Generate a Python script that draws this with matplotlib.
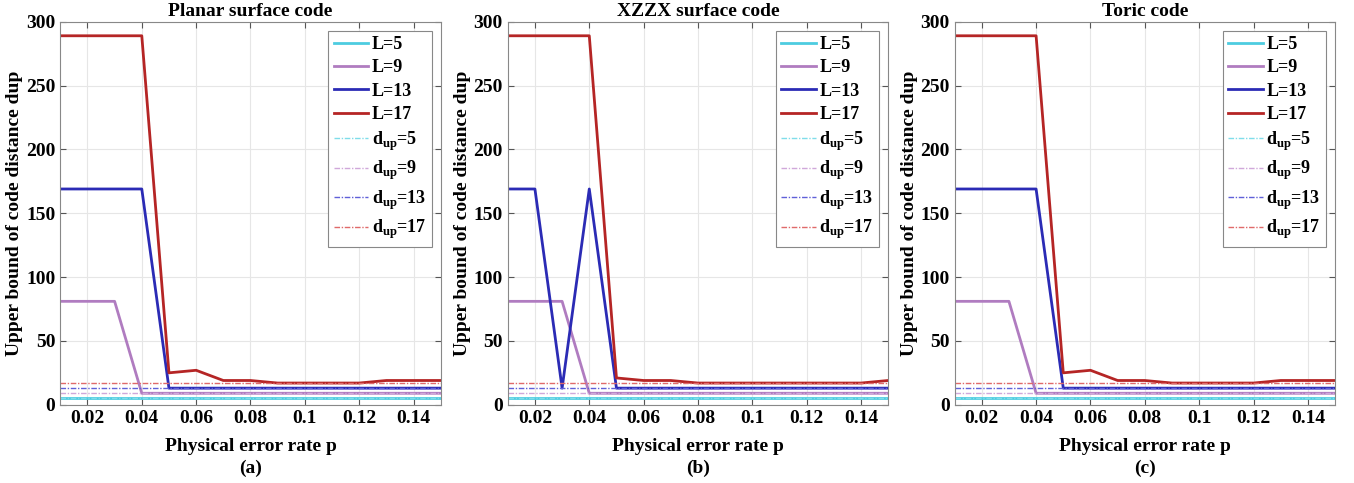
import numpy as np
import matplotlib
matplotlib.use("Agg")
import matplotlib.pyplot as plt

plt.rcParams['font.family'] = ['Liberation Serif', 'DejaVu Serif']
plt.rcParams['font.weight'] = 'bold'
plt.rcParams['mathtext.fontset'] = 'custom'
plt.rcParams['mathtext.rm'] = 'Liberation Serif:bold'
plt.rcParams['mathtext.bf'] = 'Liberation Serif:bold'

# physical error rate
p = [0.01, 0.02, 0.03, 0.04, 0.05, 0.06, 0.07, 0.08,
     0.09, 0.10, 0.11, 0.12, 0.13, 0.14, 0.15]

sizes = [5, 9, 13, 17]

# Planar surface code
planar_5 = [5] * 15
planar_9 = [81, 81, 81, 9, 9, 9, 9, 9, 9, 9, 9, 9, 9, 9, 9]
planar_13 = [169, 169, 169, 169, 13, 13, 13, 13, 13, 13, 13, 13, 13, 13, 13]
planar_17 = [289, 289, 289, 289, 25, 27, 19, 19, 17, 17, 17, 17, 19, 19, 19]

# XZZX surface code
xzzx_5 = [5] * 15
xzzx_9 = [81, 81, 81, 9, 9, 9, 9, 9, 9, 9, 9, 9, 9, 9, 9]
xzzx_13 = [169, 169, 13, 169, 13, 13, 13, 13, 13, 13, 13, 13, 13, 13, 13]
xzzx_17 = [289, 289, 289, 289, 21, 19, 19, 17, 17, 17, 17, 17, 17, 17, 19]

# Toric code
toric_5 = [5] * 15
toric_9 = [81, 81, 81, 9, 9, 9, 9, 9, 9, 9, 9, 9, 9, 9, 9]
toric_13 = [169, 169, 169, 169, 13, 13, 13, 13, 13, 13, 13, 13, 13, 13, 13]
toric_17 = [289, 289, 289, 289, 25, 27, 19, 19, 17, 17, 17, 17, 19, 19, 19]

panels = [
    ("Planar surface code", "(a)", [planar_5, planar_9, planar_13, planar_17]),
    ("XZZX surface code", "(b)", [xzzx_5, xzzx_9, xzzx_13, xzzx_17]),
    ("Toric code", "(c)", [toric_5, toric_9, toric_13, toric_17]),
]

colors = ['#4DCCE0', '#B07CC0', '#2B2BB5', '#B52525']
light = ['#7FDDEA', '#D0A8DA', '#6060D8', '#E06A6A']

fig = plt.figure(figsize=(13.54, 4.83), dpi=100)
lefts = [0.0445, 0.375, 0.705]
for (title, tag, series), left in zip(panels, lefts):
    ax = fig.add_axes([left, 0.162, 0.281, 0.793])
    for L, y, c in zip(sizes, series, colors):
        ax.plot(p, y, color=c, lw=2, label='L=%d' % L)
    for L, c in zip(sizes, light):
        ax.plot([p[0], p[-1]], [L, L], color=c, lw=1.0,
                dashes=(4, 1.2, 1, 1.2),
                label=r'd$_{\mathrm{up}}$=%d' % L)
    ax.set_xlim(0.01, 0.15)
    ax.set_ylim(0, 300)
    ax.set_xticks([0.02, 0.04, 0.06, 0.08, 0.1, 0.12, 0.14])
    ax.set_xticklabels(['0.02', '0.04', '0.06', '0.08', '0.1', '0.12', '0.14'])
    ax.set_yticks([0, 50, 100, 150, 200, 250, 300])
    ax.tick_params(direction='in', top=True, right=True, labelsize=14,
                   length=4, color='#555555')
    ax.grid(True, color='#e6e6e6', lw=0.8)
    for s in ax.spines.values():
        s.set_color('#888888')
    ax.set_title(title, fontsize=14, fontweight='bold', pad=4)
    ax.set_ylabel('Upper bound of code distance dup', fontsize=14,
                  fontweight='bold', labelpad=2)
    ax.set_xlabel('Physical error rate p\n' + tag, fontsize=14,
                  fontweight='bold', labelpad=8, linespacing=1.35)
    leg = ax.legend(loc='upper right', fontsize=13, fancybox=False,
                    framealpha=1, edgecolor='#888888', handlelength=1.9,
                    handletextpad=0.2, labelspacing=0.35, borderpad=0.3,
                    borderaxespad=0.5)
    leg.get_frame().set_linewidth(0.8)

fig.savefig('out.png', dpi=100)
